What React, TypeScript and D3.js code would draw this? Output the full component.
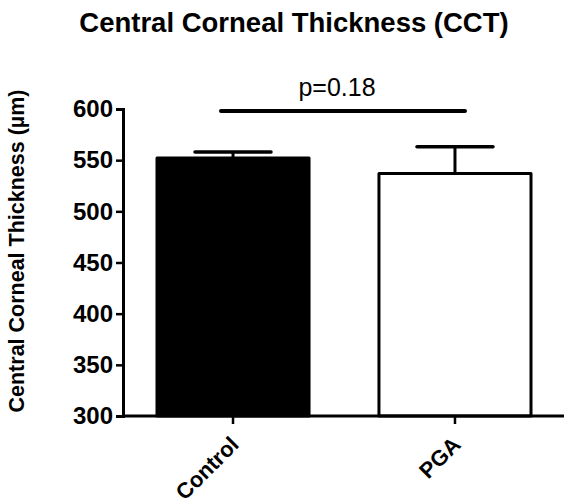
import React, { useEffect, useRef } from "react";
import * as d3 from "d3";

const groups = ["Control", "PGA"];
const means = [552, 537];
const sem = [6, 26];
const barFills = ["#000000", "#ffffff"];
const yTicks = [300, 350, 400, 450, 500, 550, 600];
const pLabel = "p=0.18";

const App = () => {
  const ref = useRef<SVGSVGElement | null>(null);

  useEffect(() => {
    const svg = d3.select(ref.current);
    svg.selectAll("*").remove();

    const width = 564;
    const height = 501;
    const font = "Arial, 'Liberation Sans', sans-serif";

    const y = d3.scaleLinear().domain([300, 600]).range([416, 109]);
    const x = d3.scaleBand().domain(groups).range([157, 531])
      .paddingInner(0.315).paddingOuter(0);

    // title
    svg.append("text")
      .attr("x", 294)
      .attr("y", 32)
      .attr("text-anchor", "middle")
      .attr("font-family", font)
      .attr("font-weight", "bold")
      .attr("font-size", 27.5)
      .text("Central Corneal Thickness (CCT)");

    // y label
    svg.append("text")
      .attr("transform", `translate(24, 251) rotate(-90)`)
      .attr("text-anchor", "middle")
      .attr("font-family", font)
      .attr("font-weight", "bold")
      .attr("font-size", 21.5)
      .text("Central Corneal Thickness (µm)");

    // bars
    groups.forEach((gname, i) => {
      const x0 = x(gname)!;
      const bw = x.bandwidth();
      svg.append("rect")
        .attr("x", x0)
        .attr("y", y(means[i]))
        .attr("width", bw)
        .attr("height", y(300) - y(means[i]))
        .attr("fill", barFills[i])
        .attr("stroke", "#000")
        .attr("stroke-width", 3)
        .attr("stroke-linejoin", "round");

      const cx = x0 + bw / 2;
      const capHalf = bw / 4;
      svg.append("line")
        .attr("x1", cx).attr("x2", cx)
        .attr("y1", y(means[i])).attr("y2", y(means[i] + sem[i]))
        .attr("stroke", "#000").attr("stroke-width", 3);
      svg.append("line")
        .attr("x1", cx - capHalf).attr("x2", cx + capHalf)
        .attr("y1", y(means[i] + sem[i])).attr("y2", y(means[i] + sem[i]))
        .attr("stroke", "#000").attr("stroke-width", 3.5)
        .attr("stroke-linecap", "round");
    });

    // y axis
    const yAxis = svg.append("g").attr("transform", "translate(123,0)")
      .call(d3.axisLeft(y).tickValues(yTicks).tickSize(7).tickPadding(3).tickFormat(d3.format("d")));
    yAxis.select(".domain").attr("stroke-width", 3);
    yAxis.selectAll(".tick line").attr("stroke-width", 2.5);
    yAxis.selectAll(".tick text")
      .attr("font-family", font)
      .attr("font-weight", "bold")
      .attr("font-size", 24)
      .attr("fill", "#000");

    // x axis
    const xAxis = svg.append("g").attr("transform", `translate(0,${y(300)})`)
      .call(d3.axisBottom(x).tickSize(8).tickSizeOuter(0));
    xAxis.select(".domain").remove();
    xAxis.append("line")
      .attr("x1", 123).attr("x2", width)
      .attr("y1", 0).attr("y2", 0)
      .attr("stroke", "#000").attr("stroke-width", 3);
    xAxis.selectAll(".tick line").attr("stroke-width", 2.5);
    xAxis.selectAll(".tick text")
      .attr("font-family", font)
      .attr("font-weight", "bold")
      .attr("font-size", 22)
      .attr("fill", "#000")
      .attr("text-anchor", "end")
      .attr("y", 0)
      .attr("dy", 0)
      .attr("transform", "translate(7,30) rotate(-45)");

    // significance bar
    svg.append("line")
      .attr("x1", 221).attr("x2", 465)
      .attr("y1", 111).attr("y2", 111)
      .attr("stroke", "#000").attr("stroke-width", 4)
      .attr("stroke-linecap", "round");
    svg.append("text")
      .attr("x", 337)
      .attr("y", 96)
      .attr("text-anchor", "middle")
      .attr("font-family", font)
      .attr("font-size", 25)
      .text(pLabel);

    svg.attr("width", width).attr("height", height);
  }, []);

  return (
    <svg ref={ref} width={564} height={501}
      style={{ position: "absolute", left: 0, top: 0, background: "#fff" }} />
  );
};

export default App;
